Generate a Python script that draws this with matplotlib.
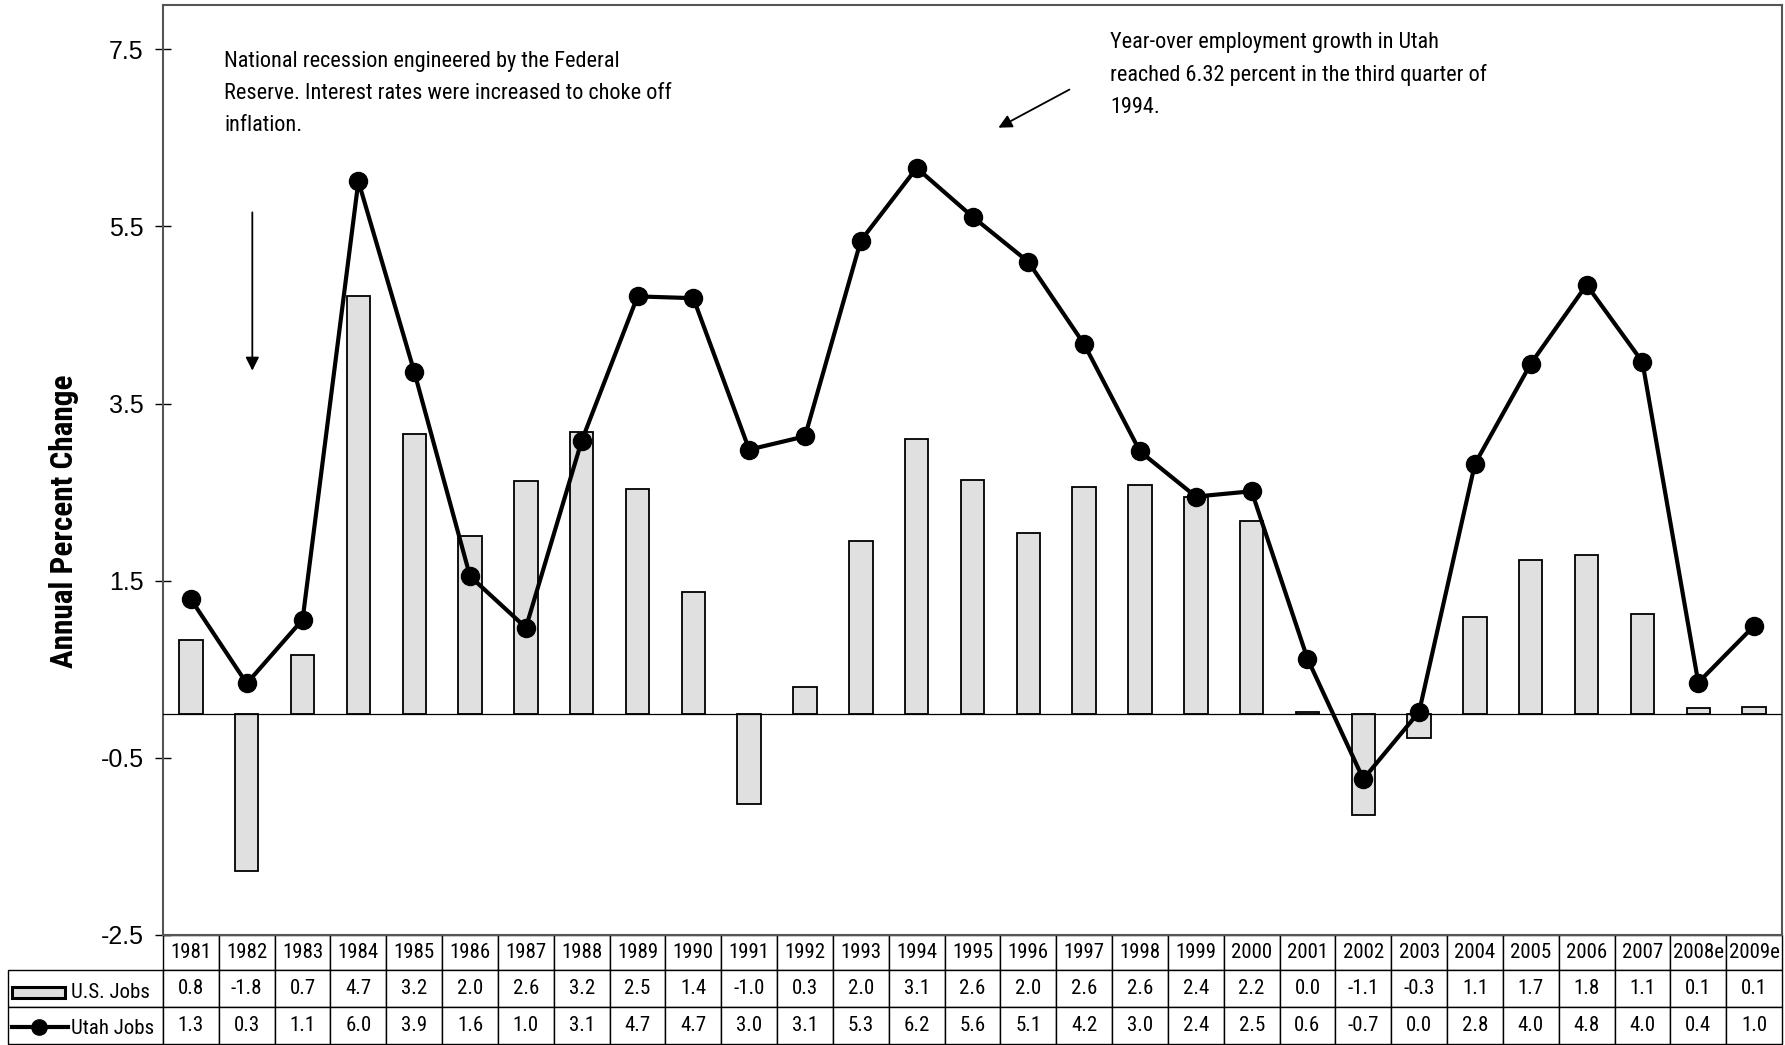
import numpy as np
import matplotlib.pyplot as plt
from matplotlib.table import Table
from matplotlib.patches import Rectangle
from matplotlib.lines import Line2D

years = ['1981', '1982', '1983', '1984', '1985', '1986', '1987', '1988', '1989', '1990',
         '1991', '1992', '1993', '1994', '1995', '1996', '1997', '1998', '1999', '2000',
         '2001', '2002', '2003', '2004', '2005', '2006', '2007', '2008e', '2009e']

# values as plotted
us_jobs = [0.83, -1.78, 0.66, 4.71, 3.16, 2.01, 2.63, 3.18, 2.53, 1.37,
           -1.02, 0.30, 1.95, 3.10, 2.64, 2.04, 2.56, 2.58, 2.45, 2.17,
           0.02, -1.14, -0.28, 1.09, 1.73, 1.79, 1.12, 0.06, 0.07]
utah_jobs = [1.29, 0.34, 1.06, 6.01, 3.86, 1.55, 0.97, 3.08, 4.71, 4.69,
             2.98, 3.13, 5.34, 6.16, 5.61, 5.10, 4.17, 2.96, 2.45, 2.51,
             0.62, -0.74, 0.02, 2.82, 3.95, 4.84, 3.97, 0.35, 0.99]

# values as printed in the table
us_text = ['0.8', '-1.8', '0.7', '4.7', '3.2', '2.0', '2.6', '3.2', '2.5', '1.4',
           '-1.0', '0.3', '2.0', '3.1', '2.6', '2.0', '2.6', '2.6', '2.4', '2.2',
           '0.0', '-1.1', '-0.3', '1.1', '1.7', '1.8', '1.1', '0.1', '0.1']
utah_text = ['1.3', '0.3', '1.1', '6.0', '3.9', '1.6', '1.0', '3.1', '4.7', '4.7',
             '3.0', '3.1', '5.3', '6.2', '5.6', '5.1', '4.2', '3.0', '2.4', '2.5',
             '0.6', '-0.7', '0.0', '2.8', '4.0', '4.8', '4.0', '0.4', '1.0']

yticks = [7.5, 5.5, 3.5, 1.5, -0.5, -2.5]

narrow = ['Roboto Condensed', 'Liberation Sans', 'DejaVu Sans']
plt.rcParams['font.family'] = ['Liberation Sans', 'DejaVu Sans']

W, H = 1785, 1045
fig = plt.figure(figsize=(W / 100, H / 100), dpi=100)

ax_l, ax_r, ax_t, ax_b = 163, 1782, 5, 935
ax = fig.add_axes([ax_l / W, 1 - ax_b / H, (ax_r - ax_l) / W, (ax_b - ax_t) / H])

x = np.arange(len(years))
ax.bar(x, us_jobs, width=0.42, color='#e0e0e0', edgecolor='black', linewidth=1.3, zorder=2)
ax.axhline(0, color='black', linewidth=0.9, zorder=3)
ax.plot(x, utah_jobs, color='black', linewidth=3, marker='o', markersize=13, zorder=4)

ax.set_xlim(-0.5, len(years) - 0.5)
ax.set_ylim(-2.5, 8.0)
ax.set_yticks(yticks)
ax.set_yticklabels([f'{t:.1f}' for t in yticks])
ax.set_xticks([])
ax.tick_params(axis='y', direction='inout', length=12, width=1, pad=8, labelsize=18)
for s in ax.spines.values():
    s.set_color('#555555')
    s.set_linewidth(1.5)

fig.text(64 / W, 1 - 521 / H, 'Annual Percent Change', rotation=90, ha='center', va='center',
         fontsize=22.5, fontweight='bold', family=narrow)

# annotations
fig.text(224 / W, 1 - 51 / H,
         'National recession engineered by the Federal\nReserve. Interest rates were increased to choke off\ninflation.',
         ha='left', va='top', fontsize=16, family=narrow, linespacing=1.68)
fig.text(1110 / W, 1 - 32 / H,
         'Year-over employment growth in Utah\nreached 6.32 percent in the third quarter of\n1994.',
         ha='left', va='top', fontsize=16, family=narrow, linespacing=1.66)
ax.annotate('', xy=(1.1, 3.84), xytext=(1.1, 5.69),
            arrowprops=dict(arrowstyle='-|>', color='black', lw=1.3, mutation_scale=20))
ax.annotate('', xy=(14.42, 6.60), xytext=(15.78, 7.06),
            arrowprops=dict(arrowstyle='-|>', color='black', lw=1.3, mutation_scale=20))

# data table below the axes (sizes in axes fractions)
ax_w = ax_r - ax_l
ax_h = ax_b - ax_t
row_h = [35 / ax_h, 37 / ax_h, 37 / ax_h]
col_w = 1 / len(years)
table = Table(ax, bbox=[0, -sum(row_h), 1, sum(row_h)])
table.auto_set_font_size(False)
for j, yr in enumerate(years):
    table.add_cell(0, j, width=col_w, height=row_h[0], text=yr, loc='center')
for i, row in enumerate([us_text, utah_text], start=1):
    table.add_cell(i, -1, width=155 / ax_w, height=row_h[i], text='')
    for j, v in enumerate(row):
        table.add_cell(i, j, width=col_w, height=row_h[i], text=v, loc='center')
ax.add_table(table)
table.set_clip_on(False)
for cell in table.get_celld().values():
    cell.set_clip_on(False)
    cell.set_edgecolor('black')
    cell.set_linewidth(1)
    cell.get_text().set_fontsize(15)
    cell.get_text().set_family(narrow)


# legend symbols in the row-label cells
def fx(px):
    return px / W


def fy(py):
    return 1 - py / H


fig.add_artist(Rectangle((fx(12), fy(998)), fx(65) - fx(12), fy(987) - fy(998),
                         transform=fig.transFigure, facecolor='#e0e0e0', edgecolor='black',
                         linewidth=2.2))
fig.text(fx(71), fy(992), 'U.S. Jobs', ha='left', va='center', fontsize=15, family=narrow)
fig.add_artist(Line2D([fx(12), fx(68)], [fy(1027), fy(1027)], transform=fig.transFigure,
                      color='black', linewidth=3))
fig.add_artist(Line2D([fx(39)], [fy(1027)], transform=fig.transFigure, color='black',
                      marker='o', markersize=11, linestyle='none'))
fig.text(fx(71), fy(1028), 'Utah Jobs', ha='left', va='center', fontsize=15, family=narrow)

fig.savefig('out.png', dpi=100)
